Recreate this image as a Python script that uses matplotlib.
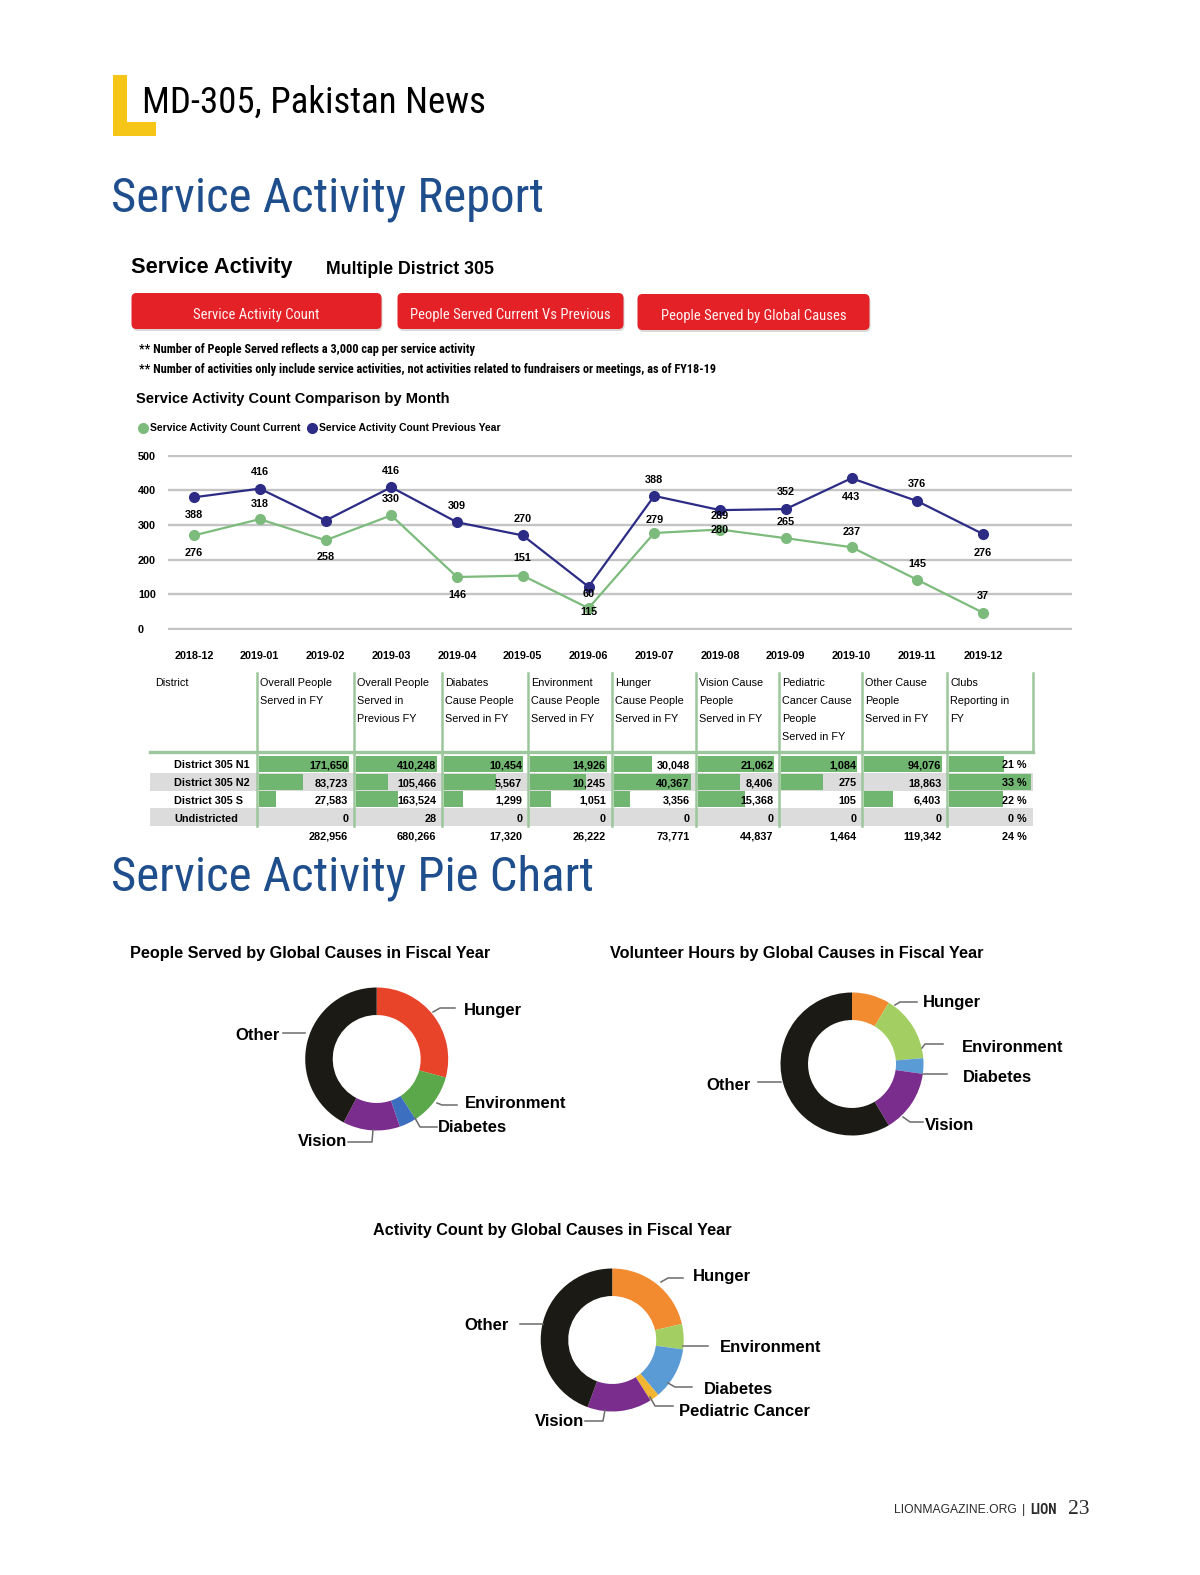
import matplotlib
matplotlib.use('Agg')
import matplotlib.pyplot as plt
from matplotlib import font_manager
from matplotlib.patches import Rectangle, FancyBboxPatch

# ---------------- data ----------------
months = ['2018-12', '2019-01', '2019-02', '2019-03', '2019-04', '2019-05', '2019-06',
          '2019-07', '2019-08', '2019-09', '2019-10', '2019-11', '2019-12']
count_current = [270, 317, 256, 328, 150, 154, 60, 277, 287, 262, 236, 142, 47]
count_previous = [380, 405, 313, 409, 308, 270, 122, 384, 343, 346, 435, 369, 274]
# printed labels as they appear next to the points
current_labels = ['276', '318', '258', '330', '146', '151', '115', '279', '280', '265', '237', '145', '37']
previous_labels = ['388', '416', '', '416', '309', '270', '60', '388', '289', '352', '443', '376', '276']

districts = ['District 305 N1', 'District 305 N2', 'District 305 S', 'Undistricted']
col_headers = ['Overall People\nServed in FY', 'Overall People\nServed in\nPrevious FY',
               'Diabates\nCause People\nServed in FY', 'Environment\nCause People\nServed in FY',
               'Hunger\nCause People\nServed in FY', 'Vision Cause\nPeople\nServed in FY',
               'Pediatric\nCancer Cause\nPeople\nServed in FY', 'Other Cause\nPeople\nServed in FY',
               'Clubs\nReporting in\nFY']
overall_fy = [171650, 83723, 27583, 0]
overall_prev = [410248, 105466, 163524, 28]
diabetes = [10454, 5567, 1299, 0]
environment = [14926, 10245, 1051, 0]
hunger = [30048, 40367, 3356, 0]
vision = [21062, 8406, 15368, 0]
pediatric = [1084, 275, 105, 0]
other = [94076, 18863, 6403, 0]
clubs_pct = [21, 33, 22, 0]
col_totals = [282956, 680266, 17320, 26222, 73771, 44837, 1464, 119342]
clubs_total = 24
# data bar lengths (share of cell) as drawn in the report
bar_fill = [[1.0, 0.48, 0.19, 0], [1.0, 0.39, 0.51, 0], [1.0, 0.655, 0.24, 0],
            [1.0, 0.725, 0.27, 0], [0.50, 1.0, 0.21, 0], [1.0, 0.55, 0.62, 0],
            [1.0, 0.55, 0, 0], [1.0, 0, 0.37, 0], [0.70, 1.05, 0.69, 0]]

people_causes = ['Hunger', 'Environment', 'Diabetes', 'Vision', 'Other']
people_share = [29.2, 11.7, 3.9, 12.9, 42.4]
hours_causes = ['Hunger', 'Environment', 'Diabetes', 'Vision', 'Other']
hours_share = [8.6, 15.1, 3.5, 14.2, 58.6]
activity_causes = ['Hunger', 'Environment', 'Diabetes', 'Pediatric Cancer', 'Vision', 'Other']
activity_share = [21.4, 5.7, 11.8, 2.1, 14.6, 44.4]

# ---------------- fonts ----------------
have = {f.name for f in font_manager.fontManager.ttflist}


def pick(*names):
    for n in names:
        if n in have:
            return n
    return 'DejaVu Sans'


SANS = pick('Liberation Sans', 'Arial', 'DejaVu Sans')
NARROW = pick('Liberation Sans Narrow', 'DejaVu Sans Condensed', 'Roboto Condensed', 'Roboto')
SERIF = pick('Liberation Serif', 'DejaVu Serif')
plt.rcParams['font.family'] = SANS

W, H = 1200, 1575
BLUE_T = '#1f4e8d'
GREEN = '#7dbb7d'
NAVY = '#2c2c86'
BAR = '#70b570'
SEP = '#9cc79c'

fig = plt.figure(figsize=(12, 15.75), dpi=100)


def rect(x0, y0, x1, y1):
    return [x0 / W, 1 - y1 / H, (x1 - x0) / W, (y1 - y0) / H]


def page_axes(z):
    a = fig.add_axes([0, 0, 1, 1], zorder=z)
    a.set_xlim(0, W)
    a.set_ylim(H, 0)
    a.axis('off')
    a.patch.set_alpha(0)
    return a


bg = page_axes(0)
fg = page_axes(10)

# ---------------- header ----------------
bg.add_patch(Rectangle((112.5, 75), 14, 61, color='#f5c518', lw=0))
bg.add_patch(Rectangle((112.5, 122), 43.5, 14, color='#f5c518', lw=0))
fg.text(142, 112.5, 'MD-305, Pakistan News', fontsize=26.6, family=NARROW, va='baseline')
fg.text(111, 211, 'Service Activity Report', fontsize=35.2, family=NARROW, color=BLUE_T, va='baseline')

fg.text(131, 268, 'Service Activity', fontsize=15.7, weight='bold', va='center')
fg.text(326, 269, 'Multiple District 305', fontsize=12.8, weight='bold', va='center')

buttons = [(131.5, 293, 250, 36, 'Service Activity Count'),
           (397.5, 293, 226, 36, 'People Served Current Vs Previous'),
           (637.5, 294, 232, 36, 'People Served by Global Causes')]
for bx, by, bw, bh, label in buttons:
    bg.add_patch(FancyBboxPatch((bx + 1, by + 2), bw, bh, boxstyle='round,pad=0,rounding_size=5',
                                fc='#c9c9c9', ec='none', alpha=0.7))
    bg.add_patch(FancyBboxPatch((bx, by), bw, bh, boxstyle='round,pad=0,rounding_size=5',
                                fc='#e42127', ec='none'))
    fg.text(bx + bw / 2, by + bh / 2 + 4, label, color='#fff4f4', fontsize=10.5, family=NARROW,
            ha='center', va='center')

fg.text(139, 350, '** Number of People Served reflects a 3,000 cap per service activity',
        fontsize=8.85, family=NARROW, weight='bold', va='center')
fg.text(139, 370, '** Number of activities only include service activities, not activities related '
        'to fundraisers or meetings, as of FY18-19', fontsize=8.85, family=NARROW, weight='bold', va='center')
fg.text(136, 399, 'Service Activity Count Comparison by Month', fontsize=10.5, weight='bold', va='center')

fg.plot([143], [428], 'o', color=GREEN, ms=7)
fg.text(150, 428, 'Service Activity Count Current', fontsize=7.5, weight='bold', va='center')
fg.plot([312], [428], 'o', color=NAVY, ms=7)
fg.text(319, 428, 'Service Activity Count Previous Year', fontsize=7.5, weight='bold', va='center')

# ---------------- line chart ----------------
y_px0, y_scale = 629.0, 0.3466
step, x_first = 65.75, 194.0
lc = fig.add_axes(rect(168, y_px0 - 503 * y_scale, 1072, y_px0 + 3 * y_scale), zorder=2)
lc.patch.set_alpha(0)
lc.set_xlim((168 - x_first) / step, (1072 - x_first) / step)
lc.set_ylim(-3, 503)
lc.set_yticks(range(0, 501, 100))
lc.grid(axis='y', color='#c4c4c4', lw=1.7)
lc.set_axisbelow(True)
for s in lc.spines.values():
    s.set_visible(False)
xs = list(range(len(months)))
lc.plot(xs, count_current, '-o', color=GREEN, lw=1.6, ms=7, zorder=3)
lc.plot(xs, count_previous, '-o', color=NAVY, lw=1.6, ms=7, zorder=4)
lc.set_xticks(xs)
lc.set_xticklabels(months, fontsize=7.8, weight='bold')
lc.tick_params(axis='x', length=0, pad=14.8)
lc.tick_params(axis='y', length=0, pad=21.6, labelsize=7.8)
for t in lc.get_yticklabels():
    t.set_ha('left')
    t.set_fontweight('bold')

cur_off = [-18, 15, -17, 16, -18, 18, -4, 13, 0, 16, 15, 16, 17]
prev_off = [-18, 17, 0, 16, 16, 16, -7, 16, -6, 17, -19, 17, -19]
for i in xs:
    lc.annotate(current_labels[i], (i, count_current[i]), xytext=(0, cur_off[i]),
                textcoords='offset pixels', ha='center', va='center', fontsize=7.8,
                weight='bold', zorder=6)
    if previous_labels[i]:
        lc.annotate(previous_labels[i], (i, count_previous[i]), xytext=(0, prev_off[i]),
                    textcoords='offset pixels', ha='center', va='center', fontsize=7.8,
                    weight='bold', zorder=6)

# ---------------- table ----------------
seps = [257.3, 354.3, 442.3, 528.3, 611.7, 695.7, 779.3, 862.3, 947.3, 1032.5]
row_top, row_h = 755.0, 17.75
row_c = [row_top + row_h * (r + 0.5) for r in range(4)]
for r in (1, 3):
    bg.add_patch(Rectangle((150, row_top + r * row_h), 1032.5 - 150, row_h, color='#dcdcdc', lw=0))
bg.plot([150, 1032.5], [752, 752], color=SEP, lw=2.4)
for i, sx in enumerate(seps):
    bg.plot([sx, sx], [673, 752 if i == len(seps) - 1 else 826], color=SEP, lw=1.8)

fg.text(155, 683.5, 'District', fontsize=7.8, va='center')
for i, head in enumerate(col_headers):
    for k, line in enumerate(head.split('\n')):
        fg.text(seps[i] + 3, 683.5 + k * 17.7, line, fontsize=7.8, va='center')
for r, name in enumerate(districts):
    fg.text(174, row_c[r] + 1.5, name, fontsize=7.8, weight='bold', va='center')

columns = [overall_fy, overall_prev, diabetes, environment, hunger, vision, pediatric, other]
for i in range(9):
    ca = fig.add_axes(rect(seps[i] + 2, row_top, seps[i + 1] - 5, row_top + 4 * row_h), zorder=3)
    ca.set_xlim(0, 1)
    ca.set_ylim(3.5, -0.5)
    ca.axis('off')
    ca.barh(range(4), bar_fill[i], height=0.9, color=BAR, clip_on=False)
    right = seps[i + 1] - 6
    if i < 8:
        texts = [f'{v:,}' for v in columns[i]]
        total = f'{col_totals[i]:,}'
    else:
        texts = [f'{v} %' for v in clubs_pct]
        total = f'{clubs_total} %'
    for r in range(4):
        fg.text(right, row_c[r] + 1.5, texts[r], fontsize=7.8, weight='bold', ha='right', va='center')
    fg.text(right, 836.5, total, fontsize=7.8, weight='bold', ha='right', va='center')

# ---------------- pies ----------------
fg.text(111, 890.5, 'Service Activity Pie Chart', fontsize=35.2, family=NARROW, color=BLUE_T, va='baseline')

INK = '#1b1a15'
pies = [
    (376.7, 1059, people_share, ['#e8442a', '#5aa84a', '#3d6fc0', '#7a2d8c', INK]),
    (852.0, 1064, hours_share, ['#f28a30', '#a3cf62', '#5b9bd5', '#7a2d8c', INK]),
    (612.2, 1340, activity_share, ['#f28a30', '#a3cf62', '#5b9bd5', '#f2b632', '#7a2d8c', INK]),
]
R = 71.5
for cx, cy, share, cols in pies:
    pa = fig.add_axes(rect(cx - R, cy - R, cx + R, cy + R), zorder=2)
    pa.pie(share, colors=cols, startangle=90, counterclock=False, radius=1,
           wedgeprops=dict(width=0.385, linewidth=0))
    pa.set_xlim(-1, 1)
    pa.set_ylim(-1, 1)
    pa.axis('off')

fg.text(130, 953.5, 'People Served by Global Causes in Fiscal Year', fontsize=11.7, weight='bold', va='center')
fg.text(610, 953.5, 'Volunteer Hours by Global Causes in Fiscal Year', fontsize=11.7, weight='bold', va='center')
fg.text(373, 1230, 'Activity Count by Global Causes in Fiscal Year', fontsize=11.7, weight='bold', va='center')

# leader lines: (polyline, text x, text y, ha)
leaders = [
    (people_causes[0], [(433, 1012), (440, 1008), (455, 1008)], 464, 1011, 'left'),
    (people_causes[1], [(437, 1103), (442, 1105), (457, 1105)], 465, 1104, 'left'),
    (people_causes[2], [(415, 1118), (420, 1127), (437, 1127)], 438, 1127, 'left'),
    (people_causes[3], [(373, 1130), (372, 1142), (348, 1142)], 347, 1142, 'right'),
    (people_causes[4], [(305, 1033), (283, 1033)], 280, 1036, 'right'),
    (hours_causes[0], [(895, 1005), (900, 1002), (917, 1002)], 923, 1002, 'left'),
    (hours_causes[1], [(922, 1048), (925, 1044), (943, 1044)], 962, 1048, 'left'),
    (hours_causes[2], [(923, 1074), (947, 1074)], 963, 1078, 'left'),
    (hours_causes[3], [(903, 1117), (910, 1122), (923, 1122)], 925, 1126, 'left'),
    (hours_causes[4], [(781, 1082), (758, 1082)], 751, 1086, 'right'),
    (activity_causes[0], [(661, 1282), (668, 1278), (683, 1278)], 693, 1277, 'left'),
    (activity_causes[1], [(683, 1346), (708, 1346)], 720, 1348, 'left'),
    (activity_causes[2], [(668, 1383), (675, 1387), (692, 1387)], 704, 1389, 'left'),
    (activity_causes[3], [(650, 1397), (655, 1406), (673, 1406)], 679, 1411, 'left'),
    (activity_causes[4], [(605, 1410), (603, 1421), (585, 1421)], 584, 1422, 'right'),
    (activity_causes[5], [(543, 1324), (520, 1324)], 509, 1325, 'right'),
]
for name, pts, tx, ty, ha in leaders:
    fg.plot([p[0] for p in pts], [p[1] for p in pts], color='#6b6b6b', lw=1.1)
    fg.text(tx, ty, name, fontsize=12, weight='bold', ha=ha, va='center')

# ---------------- footer ----------------
fg.text(894, 1510, 'LIONMAGAZINE.ORG', fontsize=8.7, color='#2a2a2a', va='center')
fg.text(1022, 1510, '|', fontsize=8.7, color='#2a2a2a', va='center')
fg.text(1030, 1510, 'LION', fontsize=9.8, family=NARROW, weight='bold', color='#2a2a2a', va='center')
fg.text(1068, 1509, '23', fontsize=15.5, family=SERIF, color='#2a2a2a', va='center')

fig.savefig('out.png', dpi=100, facecolor='white')
